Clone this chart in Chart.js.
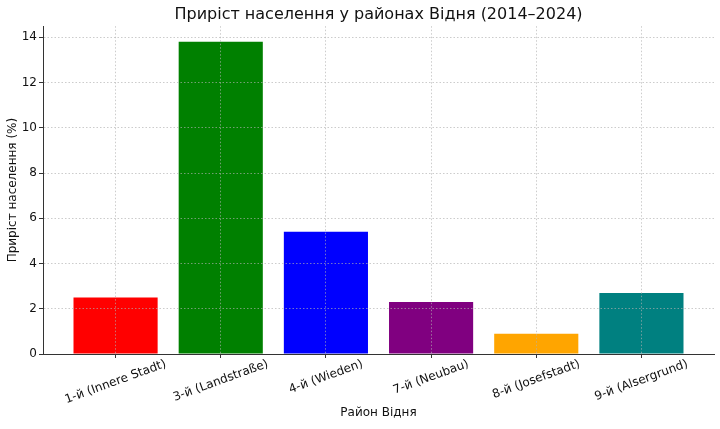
<html><head>
<meta charset="UTF-8">
<title>Приріст населення у районах Відня</title>
<script src="https://cdn.jsdelivr.net/npm/chart.js"></script>
<style>
    body { margin: 0; background: #ffffff; }
    #wrap { width: 720px; height: 429px; position: relative; }
</style>
</head>
<body>
<div id="wrap"><canvas id="chart"></canvas></div>
<script>
    const districts = ['1-й (Innere Stadt)', '3-й (Landstraße)', '4-й (Wieden)', '7-й (Neubau)', '8-й (Josefstadt)', '9-й (Alsergrund)'];
    const growth = [2.5, 13.8, 5.4, 2.3, 0.9, 2.7];
    const barColors = ['#ff0000', '#008000', '#0000ff', '#800080', '#ffa500', '#008080'];
    const yTicks = [0, 2, 4, 6, 8, 10, 12, 14];

    const FONT = "'DejaVu Sans', sans-serif";

    // rotated, centred category labels (matplotlib style)
    const xLabels = {
        id: 'xLabels',
        afterLayout(chart) {
            // centre the title over the plot area, not the whole canvas
            if (chart.titleBlock) {
                chart.titleBlock.left = chart.chartArea.left;
                chart.titleBlock.right = chart.chartArea.right;
                chart.titleBlock.width = chart.chartArea.right - chart.chartArea.left;
            }
        },
        afterDraw(chart) {
            const ctx = chart.ctx;
            const xs = chart.scales.x;
            const ang = 20 * Math.PI / 180;
            const h = 12;
            ctx.save();
            ctx.font = '12px ' + FONT;
            ctx.fillStyle = '#111';
            ctx.textAlign = 'center';
            ctx.textBaseline = 'middle';
            districts.forEach((label, i) => {
                const w = ctx.measureText(label).width;
                const boxH = w * Math.sin(ang) + h * Math.cos(ang);
                const x = xs.getPixelForValue(i);
                const y = xs.top + 4 + boxH / 2;
                ctx.save();
                ctx.translate(x, y);
                ctx.rotate(-ang);
                ctx.fillText(label, 0, 0);
                ctx.restore();
            });
            ctx.restore();
        }
    };

    const gridOpts = {
        z: 1,
        offset: false,
        color: 'rgba(176,176,176,0.65)',
        lineWidth: 1,
        tickLength: 4,
        tickColor: '#333',
        tickBorderDash: []
    };

    new Chart(document.getElementById('chart'), {
        type: 'bar',
        data: {
            datasets: [{
                data: growth.map((v, i) => ({ x: i, y: v })),
                backgroundColor: barColors,
                borderWidth: 0,
                barPercentage: 0.8,
                categoryPercentage: 1
            }]
        },
        options: {
            responsive: true,
            maintainAspectRatio: false,
            animation: false,
            layout: { padding: { left: 0, right: 6, top: 0, bottom: 0 } },
            plugins: {
                legend: { display: false },
                tooltip: { enabled: false },
                title: {
                    display: true,
                    text: 'Приріст населення у районах Відня (2014–2024)',
                    color: '#111',
                    font: { family: FONT, size: 16, weight: 'normal' },
                    padding: { top: 5, bottom: 2 }
                }
            },
            scales: {
                x: {
                    type: 'linear',
                    offset: false,
                    min: -0.69,
                    max: 5.69,
                    afterBuildTicks: (axis) => { axis.ticks = districts.map((d, i) => ({ value: i })); },
                    afterFit: (axis) => { axis.height = 75; },
                    ticks: { display: false },
                    grid: gridOpts,
                    border: { display: true, color: '#333', width: 1, dash: [1.5, 2], z: 2 },
                    title: {
                        display: true,
                        text: 'Район Відня',
                        color: '#111',
                        font: { family: FONT, size: 12 },
                        padding: { top: 4, bottom: 9 }
                    }
                },
                y: {
                    min: 0,
                    max: 14.49,
                    afterBuildTicks: (axis) => { axis.ticks = yTicks.map(v => ({ value: v })); },
                    afterFit: (axis) => { axis.width = 43; },
                    ticks: {
                        color: '#111',
                        font: { family: FONT, size: 12 },
                        padding: 2
                    },
                    grid: gridOpts,
                    border: { display: true, color: '#333', width: 1, dash: [1.5, 2], z: 2 },
                    title: {
                        display: true,
                        text: 'Приріст населення (%)',
                        color: '#111',
                        font: { family: FONT, size: 12 },
                        padding: { top: 6, bottom: 2 }
                    }
                }
            }
        },
        plugins: [xLabels]
    });
</script>
</body>
</html>
